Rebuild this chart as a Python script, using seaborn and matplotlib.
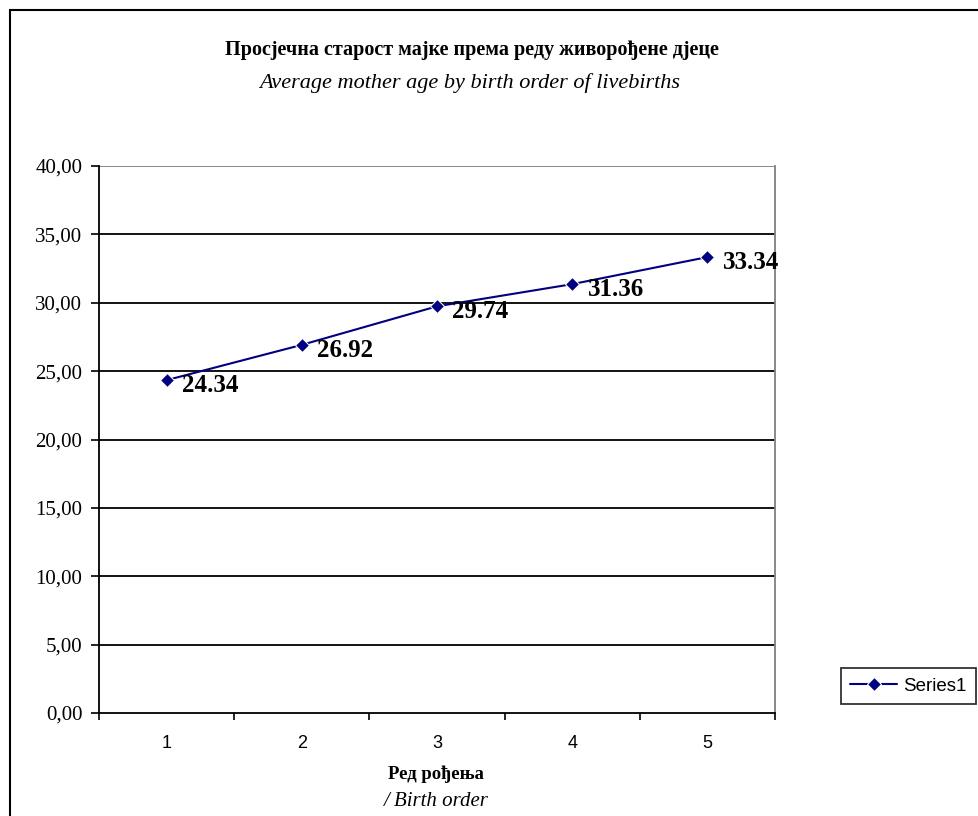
import seaborn as sns
import matplotlib.pyplot as plt
import pandas as pd
from matplotlib.patches import Rectangle

# данни
birth_order = ["1", "2", "3", "4", "5"]
mother_age = [24.34, 26.92, 29.74, 31.36, 33.34]
y_ticks = [0, 5, 10, 15, 20, 25, 30, 35, 40]

df = pd.DataFrame({"order": birth_order, "age": mother_age})

sns.set_theme(style="white")
plt.rcParams['font.family'] = ['Liberation Serif', 'DejaVu Serif']
plt.rcParams['text.color'] = 'black'
plt.rcParams['xtick.color'] = 'black'
plt.rcParams['ytick.color'] = 'black'

fig = plt.figure(figsize=(9.79, 8.16), dpi=100)
ax = fig.add_axes([99 / 979, 1 - 713 / 816, 676 / 979, 547 / 816])

sns.lineplot(data=df, x="order", y="age", ax=ax, color="#000080",
             marker="D", markersize=7, linewidth=1.5, label="Series1", sort=False)

for i, v in enumerate(mother_age):
    ax.annotate(f"{v:.2f}", (i, v), xytext=(11, -4), textcoords="offset points",
                fontsize=18, fontweight="bold", va="center", ha="left",
                family="Liberation Serif", color="black", annotation_clip=False)

ax.set_xlim(-0.5, 4.5)
ax.set_ylim(0, 40)
ax.set_yticks(y_ticks)
ax.set_yticklabels([f"{t:.2f}".replace(".", ",") for t in y_ticks],
                   fontsize=15, family="Liberation Serif")
ax.set_xticks(range(5))
ax.set_xticklabels(birth_order, fontsize=13, family="Liberation Sans")
ax.set_xticks([i - 0.5 for i in range(6)], minor=True)
ax.tick_params(axis="x", which="major", length=0, pad=16, bottom=True)
ax.tick_params(axis="x", which="minor", length=5, direction="out", width=1.2,
               color="black", bottom=True)
ax.tick_params(axis="y", length=6, direction="out", width=1.2, color="black",
               pad=6, left=True)
ax.set_xlabel("")
ax.set_ylabel("")

for t in y_ticks[1:-1]:
    ax.axhline(t, color="black", linewidth=1.3, zorder=0)
ax.axhline(40, color="#808080", linewidth=1.3, zorder=0)

ax.spines["left"].set_color("black")
ax.spines["left"].set_linewidth(1.3)
ax.spines["bottom"].set_color("black")
ax.spines["bottom"].set_linewidth(1.3)
ax.spines["right"].set_color("#808080")
ax.spines["right"].set_linewidth(1.3)
ax.spines["top"].set_visible(False)

leg = ax.legend(loc="center left", bbox_to_anchor=(841 / 979, 1 - 686 / 816),
                bbox_transform=fig.transFigure, frameon=True, fancybox=False,
                prop={"family": "Liberation Sans", "size": 13.5},
                handlelength=2.5, borderpad=0.5, handletextpad=0.3,
                borderaxespad=0)
leg.get_frame().set_edgecolor("black")
leg.get_frame().set_linewidth(1.3)
for txt in leg.get_texts():
    txt.set_color("black")

fig.text(0.482, 1 - 50 / 816, "Просјечна старост мајке према реду живорођене дјеце",
         ha="center", va="center", fontsize=14.5, fontweight="bold")
fig.text(0.48, 1 - 83 / 816, "Average mother age by birth order of livebirths",
         ha="center", va="center", fontsize=16, style="italic")
fig.text(436 / 979, 1 - 774 / 816, "Ред рођења",
         ha="center", va="center", fontsize=13.5, fontweight="bold")
fig.text(436 / 979, 1 - 801 / 816, "/ Birth order",
         ha="center", va="center", fontsize=15, style="italic")

fig.patches.append(Rectangle((10 / 979, -0.01), 1.0, 1 - 10 / 816 + 0.01,
                             transform=fig.transFigure, fill=False,
                             edgecolor="black", linewidth=1.5))

fig.savefig("out.png", dpi=100)
